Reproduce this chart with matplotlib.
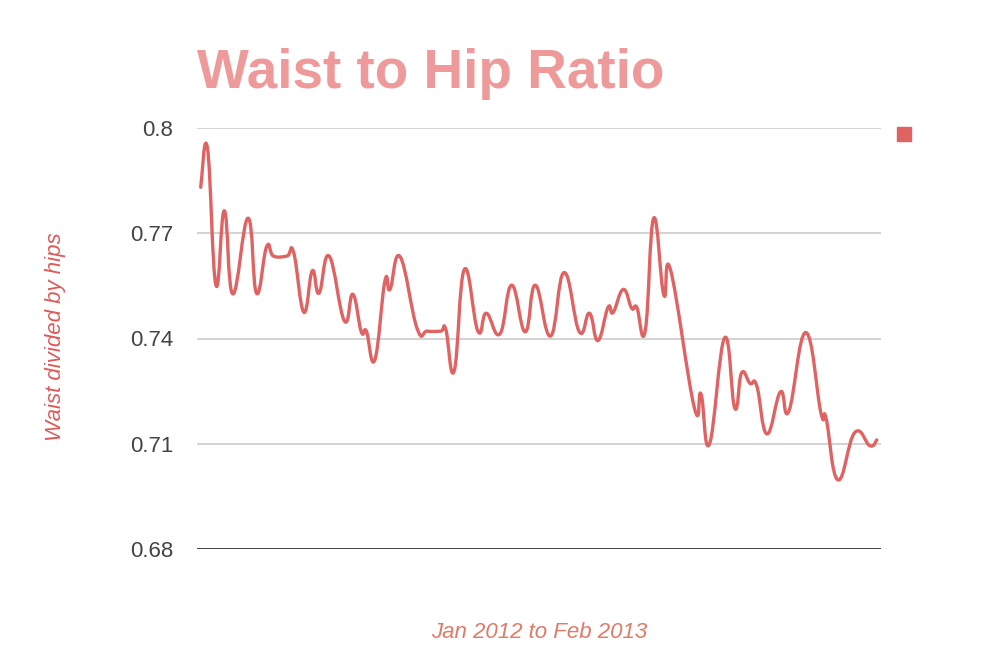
import numpy as np
import matplotlib

matplotlib.use("Agg")
import matplotlib.pyplot as plt
from matplotlib.path import Path
from matplotlib.patches import PathPatch

# measurements, days since 1 Jan 2012
days = [0, 4, 9, 14, 19, 28, 33, 39, 43, 51, 55, 61, 66, 70, 76, 85, 90, 95, 98,
        103, 109, 112, 118, 128, 134, 142, 145, 150, 156, 164, 169, 177, 184, 192,
        198, 207, 215, 224, 230, 235, 241, 244, 250, 255, 258, 263, 268, 274, 278,
        292, 296, 301, 310, 316, 320, 325, 329, 335, 343, 348, 358, 367, 370, 377,
        387, 396, 400]
ratio = [0.7831, 0.7942, 0.7552, 0.7764, 0.7527, 0.7743, 0.7529, 0.7662, 0.7635,
         0.7635, 0.7645, 0.7475, 0.7593, 0.7529, 0.7635, 0.7450, 0.7526, 0.7419,
         0.7421, 0.7339, 0.7564, 0.7540, 0.7633, 0.7429, 0.7421, 0.7421, 0.7426,
         0.7308, 0.7597, 0.7421, 0.7472, 0.7413, 0.7552, 0.7419, 0.7552, 0.7407,
         0.7588, 0.7419, 0.7472, 0.7394, 0.7489, 0.7474, 0.7540, 0.7486, 0.7489,
         0.7422, 0.7743, 0.7524, 0.7595, 0.7204, 0.7242, 0.7099, 0.7402, 0.7201,
         0.7302, 0.7272, 0.7265, 0.7128, 0.7248, 0.7193, 0.7417, 0.7187, 0.7173,
         0.6997, 0.7132, 0.7094, 0.7111]

y_ticks = [0.68, 0.71, 0.74, 0.77, 0.8]
y_tick_labels = ["0.68", "0.71", "0.74", "0.77", "0.8"]

LINE_COLOR = "#e06363"
FONT = ["Liberation Sans", "DejaVu Sans"]


def smooth_path(x, y, k=4.5):
    """Cubic bezier path through the points (Catmull-Rom style)."""
    pts = np.column_stack([x, y])
    n = len(pts)
    verts = [pts[0]]
    codes = [Path.MOVETO]
    for i in range(n - 1):
        p0 = pts[max(i - 1, 0)]
        p1 = pts[i]
        p2 = pts[i + 1]
        p3 = pts[min(i + 2, n - 1)]
        verts += [p1 + (p2 - p0) / k, p2 - (p3 - p1) / k, p2]
        codes += [Path.CURVE4] * 3
    return Path(verts, codes)


plt.rcParams["font.family"] = FONT

fig = plt.figure(figsize=(10, 6.7), dpi=100)
ax = fig.add_axes([0.197, 1 - 549 / 670, 0.684, 421 / 670])

ax.add_patch(PathPatch(smooth_path(days, ratio), fill=False,
                       edgecolor=LINE_COLOR, linewidth=2.4,
                       capstyle="round", joinstyle="round", zorder=3))

ax.set_xlim(-2.2, 402.5)
ax.set_ylim(0.68, 0.8)
ax.set_yticks(y_ticks)
ax.set_yticklabels(y_tick_labels)
ax.set_xticks([])
ax.tick_params(axis="y", length=0, pad=17, labelsize=16, labelcolor="#444444")

for v in y_ticks[1:]:
    ax.axhline(v, color="#c8c8c8", linewidth=1.1, zorder=1)
ax.axhline(0.68, color="#333333", linewidth=1.3, zorder=2)

for side in ax.spines.values():
    side.set_visible(False)

# legend square without a label
ax.plot([1.033], [0.985], marker="s", markersize=10, color=LINE_COLOR,
        transform=ax.transAxes, clip_on=False, linestyle="none")

fig.text(0.197, 1 - 88 / 670, "Waist to Hip Ratio", fontsize=39.5,
         fontweight="bold", color="#ef9a9a", ha="left", va="baseline")
fig.text(0.056, 1 - 337 / 670, "Waist divided by hips", fontsize=16,
         style="italic", color="#dd5a5a", rotation=90, ha="center", va="center")
fig.text(0.5395, 1 - 632 / 670, "Jan 2012 to Feb 2013", fontsize=16,
         style="italic", color="#e07a68", ha="center", va="center")

fig.savefig("out.png", dpi=100)
